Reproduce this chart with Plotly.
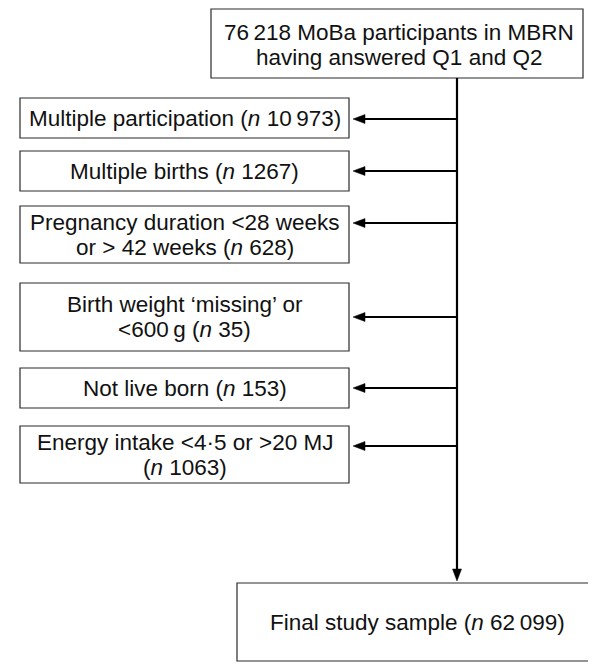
import plotly.graph_objects as go

# ---------------- data ----------------
start_n = 76218
start_text = ["MoBa participants in MBRN", "having answered Q1 and Q2"]
exclusion_reasons = [
    ["Multiple participation"],
    ["Multiple births"],
    ["Pregnancy duration &lt;28 weeks", "or &gt; 42 weeks"],
    ["Birth weight \u2018missing\u2019 or", "&lt;600\u2009g"],
    ["Not live born"],
    ["Energy intake &lt;4\u00b75 or &gt;20 MJ", ""],
]
exclusion_n = [10973, 1267, 628, 35, 153, 1063]
final_text = "Final study sample"
final_n = 62099

# ---------------- layout geometry (pixels) ----------------
W, H = 596, 671
FONT = dict(family="Liberation Sans, Arial, sans-serif", size=22.5, color="#111111")
LINE_GAP = 25
top_box = (203, 1, 575, 70)
top_text_c = (391, 37)
left_x0, left_x1 = 12, 341
left_boxes_y = [(90, 130), (143, 183), (198, 255), (275, 343), (360, 400), (418, 475)]
arrow_y = [111, 163, 215, 309, 380, 438]
spine_x = 449
final_box = (229, 575, 589, 653)


def fmt(n):
    s = str(n)
    if n >= 10000:
        s = s[:-3] + "\u2009" + s[-3:]
    return s


def n_part(n):
    return "(<i>n</i> " + fmt(n) + ")"


shapes = []
annotations = []
box_line = dict(color="#2a2a2a", width=1.2)


def add_lines(lines, xc, yc):
    k = len(lines)
    for i, t in enumerate(lines):
        y = yc + (i - (k - 1) / 2) * LINE_GAP
        annotations.append(dict(x=xc, y=y, text=t, showarrow=False, font=FONT,
                                xanchor="center", yanchor="middle"))


# top box
shapes.append(dict(type="rect", x0=top_box[0], y0=top_box[1], x1=top_box[2], y1=top_box[3],
                   line=box_line, fillcolor="white"))
add_lines([fmt(start_n) + " " + start_text[0], start_text[1]], *top_text_c)

# spine
tip = final_box[1] - 2
shapes.append(dict(type="line", x0=spine_x, x1=spine_x, y0=top_box[3], y1=tip - 6,
                   line=dict(color="black", width=2.2)))
shapes.append(dict(type="path",
                   path=f"M {spine_x-4.5},{tip-12} L {spine_x+4.5},{tip-12} L {spine_x},{tip} Z",
                   fillcolor="black", line=dict(color="black", width=0.5)))

# exclusion boxes
for (y0, y1), ay, reason, n in zip(left_boxes_y, arrow_y, exclusion_reasons, exclusion_n):
    shapes.append(dict(type="rect", x0=left_x0, y0=y0, x1=left_x1, y1=y1,
                       line=box_line, fillcolor="white"))
    if len(reason) == 1:
        lines = [reason[0] + " " + n_part(n)]
    elif reason[1]:
        lines = [reason[0], reason[1] + " " + n_part(n)]
    else:
        lines = [reason[0], n_part(n)]
    add_lines(lines, (left_x0 + left_x1) / 2, (y0 + y1) / 2)
    tipx = left_x1 + 4
    shapes.append(dict(type="line", x0=spine_x, x1=tipx + 8, y0=ay, y1=ay,
                       line=dict(color="black", width=2.2)))
    shapes.append(dict(type="path",
                       path=f"M {tipx+12},{ay-4.5} L {tipx+12},{ay+4.5} L {tipx},{ay} Z",
                       fillcolor="black", line=dict(color="black", width=0.5)))

# final box
shapes.append(dict(type="rect", x0=final_box[0], y0=final_box[1], x1=final_box[2], y1=final_box[3],
                   line=box_line, fillcolor="white"))
add_lines([final_text + " " + n_part(final_n)],
          (final_box[0] + final_box[2]) / 2, (final_box[1] + final_box[3]) / 2)

fig = go.Figure()
fig.update_layout(
    width=W, height=H, margin=dict(l=0, r=0, t=0, b=0),
    paper_bgcolor="white", plot_bgcolor="white",
    xaxis=dict(range=[0, W], visible=False, fixedrange=True),
    yaxis=dict(range=[H, 0], visible=False, fixedrange=True),
    shapes=shapes, annotations=annotations, showlegend=False,
)
fig.write_html("out.html")
